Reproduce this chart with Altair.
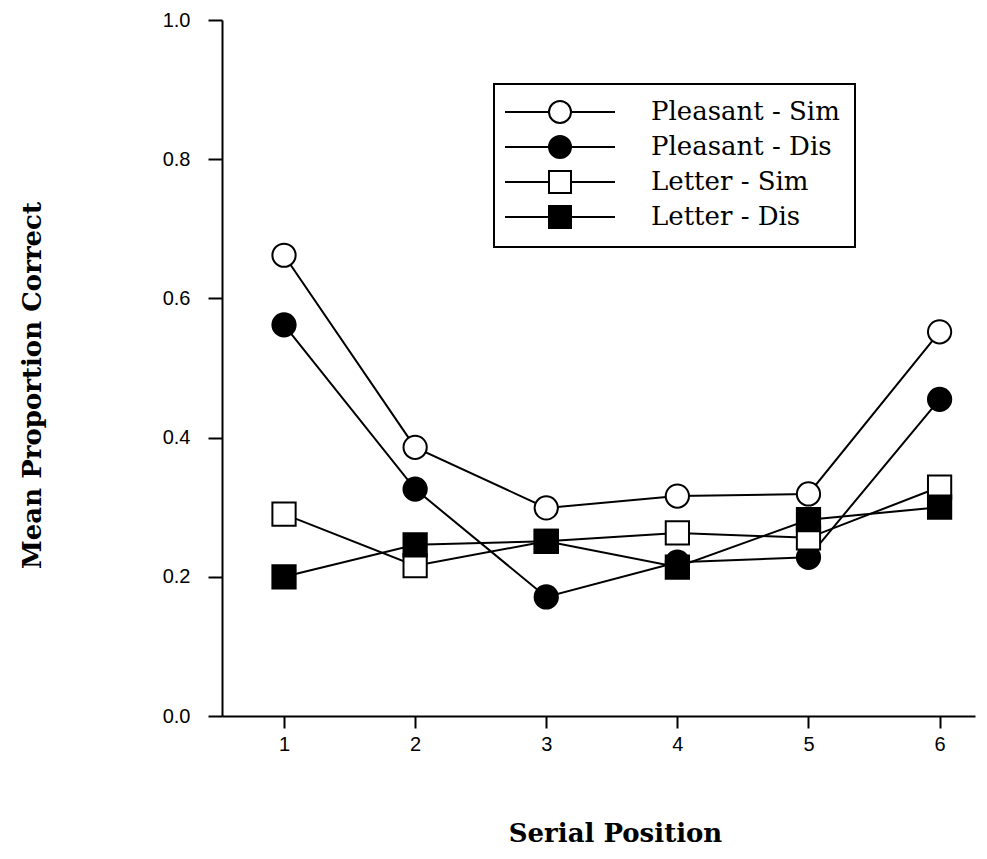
import altair as alt
import pandas as pd

positions = [1, 2, 3, 4, 5, 6]
series_names = ["Pleasant - Sim", "Pleasant - Dis", "Letter - Sim", "Letter - Dis"]
pleasant_sim = [0.662, 0.386, 0.299, 0.316, 0.319, 0.552]
pleasant_dis = [0.562, 0.326, 0.171, 0.221, 0.228, 0.455]
letter_sim = [0.290, 0.216, 0.251, 0.263, 0.256, 0.329]
letter_dis = [0.200, 0.246, 0.251, 0.214, 0.282, 0.300]

values = [pleasant_sim, pleasant_dis, letter_sim, letter_dis]
rows = []
for name, vals in zip(series_names, values):
    for p, v in zip(positions, vals):
        rows.append({"pos": p, "val": v, "series": name})
df = pd.DataFrame(rows)

shapes_plot = ["circle", "circle", "square", "square"]
fills = ["white", "black", "white", "black"]
strokes = ["black", "black", "black", "black"]
circ = "M-5,0L-1,0M1,0L5,0M-1,0A1,1,0,1,1,1,0A1,1,0,1,1,-1,0Z"
sq = "M-5,0L-1,0M1,0L5,0M-1,-1L1,-1L1,1L-1,1Z"
shapes_legend = [circ, circ, sq, sq]

xs = alt.X("pos:Q", scale=alt.Scale(domain=[0.527, 6.27], nice=False, zero=False),
           axis=alt.Axis(values=positions, format="d", title="Serial Position",
                         grid=False, tickSize=12, labelPadding=6,
                         labelFont="Liberation Sans", labelFontSize=20,
                         titleX=393, titleY=117, titleBaseline="middle", titleAlign="center"))
ys = alt.Y("val:Q", scale=alt.Scale(domain=[0, 1], nice=False),
           axis=alt.Axis(values=[0, 0.2, 0.4, 0.6, 0.8, 1.0], format=".1f",
                         title="Mean Proportion Correct", grid=False, tickSize=14,
                         labelFont="Liberation Sans", labelFontSize=20,
                         labelPadding=18, titleX=-190, titleY=365, titleAngle=270,
                         titleBaseline="middle", titleAlign="center"))

lines = alt.Chart(df).mark_line(color="black", strokeWidth=2).encode(
    x=xs, y=ys, detail="series:N")

points = alt.Chart(df).mark_point(filled=True, size=540, stroke="black",
                                  strokeWidth=2, opacity=1).encode(
    x=xs, y=ys,
    shape=alt.Shape("series:N", scale=alt.Scale(domain=series_names, range=shapes_plot), legend=None),
    fill=alt.Fill("series:N", scale=alt.Scale(domain=series_names, range=fills), legend=None),
)

legend_layer = alt.Chart(df).transform_filter("datum.val < 0").mark_point(
    filled=True, strokeWidth=2, opacity=1).encode(
    x=xs, y=ys,
    shape=alt.Shape("series:N", scale=alt.Scale(domain=series_names, range=shapes_legend),
                    legend=alt.Legend(title=None)),
    fill=alt.Fill("series:N", scale=alt.Scale(domain=series_names, range=fills),
                  legend=alt.Legend(title=None)),
    stroke=alt.Stroke("series:N", scale=alt.Scale(domain=series_names, range=strokes),
                      legend=alt.Legend(title=None)),
)

chart = alt.layer(lines, points, legend_layer).resolve_scale(
    shape="independent", fill="independent", stroke="independent"
).properties(
    width=753, height=696,
    autosize=alt.AutoSizeParams(type="none"),
    padding={"left": 214, "top": 12, "right": 4, "bottom": 135},
).configure_view(stroke=None).configure_axis(
    domainColor="black", domainWidth=2, tickColor="black", tickWidth=2,
    labelFont="Liberation Sans", labelFontSize=20, labelColor="black",
    titleFont="DejaVu Serif", titleFontSize=26, titleFontWeight="bold", titleColor="black",
).configure_legend(
    orient="none", legendX=272, legendY=64,
    strokeColor="black", strokeWidth=2, padding=15,
    labelFont="DejaVu Serif", labelFontSize=26, labelColor="black", labelLimit=400,
    symbolSize=484, symbolStrokeWidth=2, symbolStrokeColor="black",
    symbolOffset=38, labelOffset=78, rowPadding=5,
)

chart.save("out.html", embed_options={"renderer": "svg", "actions": False})
